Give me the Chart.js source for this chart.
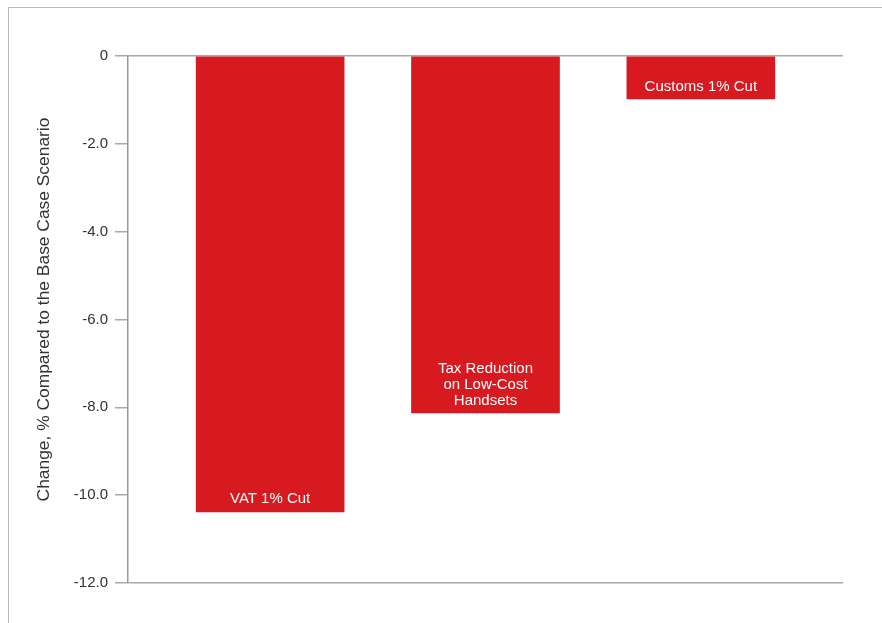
<!DOCTYPE html>
<html>
<head>
<meta charset="utf-8">
<script src="https://cdn.jsdelivr.net/npm/chart.js@4.4.1/dist/chart.umd.min.js"></script>
<style>
	body{margin:0;background:#fff;}
	#wrap{position:relative;width:882px;height:623px;}
	#frame{position:absolute;left:8px;top:7px;right:0;bottom:0;border-left:1.5px solid #b9b9b9;border-top:1.5px solid #b9b9b9;}
	canvas{position:absolute;left:0;top:0;}
</style>
</head>
<body>
<div id="wrap">
	<div id="frame"></div>
	<canvas id="taxChart" width="882" height="623"></canvas>
</div>
<script>
// Data
const categories = [["VAT 1% Cut"], ["Tax Reduction", "on Low-Cost", "Handsets"], ["Customs 1% Cut"]];
const changeValues = [-10.38, -8.13, -0.98];
const yTicks = [0, -2, -4, -6, -8, -10, -12];
const yTitle = "Change, % Compared to the Base Case Scenario";

const barRed = "#d71920";
const lineGray = "#a8a8a8";
const fontFamily = "'Liberation Sans', Arial, Helvetica, sans-serif";

// White labels written inside the end of each bar
const barLabels = {
	id: "barLabels",
	afterDatasetsDraw(chart){
		var ctx = chart.ctx;
		var meta = chart.getDatasetMeta(0);
		ctx.save();
		ctx.fillStyle = "#fff";
		ctx.font = "15px " + fontFamily;
		ctx.textAlign = "center";
		ctx.textBaseline = "middle";
		meta.data.forEach((bar, i) => {
			var lines = categories[i];
			var lh = 16;
			var y0 = bar.y - 12.5 - (lines.length - 1) * lh;
			lines.forEach((t, k) => ctx.fillText(t, bar.x, y0 + k * lh));
		});
		ctx.restore();
	}
};

// Rotated y axis title, a little above the middle of the axis as in the original
const axisTitle = {
	id: "axisTitle",
	afterDraw(chart){
		var ctx = chart.ctx;
		var area = chart.chartArea;
		ctx.save();
		ctx.translate(44, (area.top + area.bottom) / 2 - 10);
		ctx.rotate(-Math.PI / 2);
		ctx.fillStyle = "#333";
		ctx.font = "17.4px " + fontFamily;
		ctx.textAlign = "center";
		ctx.textBaseline = "middle";
		ctx.fillText(yTitle, 0, 0);
		ctx.restore();
	}
};

var points = changeValues.map((v, i) => ({x: i, y: v}));

new Chart(document.getElementById("taxChart"), {
	type: "bar",
	data: {
		datasets: [{
			data: points,
			backgroundColor: barRed,
			borderWidth: 0,
			barThickness: 148
		}]
	},
	options: {
		responsive: false,
		animation: false,
		layout: {padding: {top: 56, right: 39, bottom: 40, left: 0}},
		plugins: {legend: {display: false}, tooltip: {enabled: false}},
		scales: {
			x: {type: "linear", min: -0.66, max: 2.66, offset: false, display: false},
			y: {
				min: -12, max: 0,
				afterBuildTicks: axis => { axis.ticks = yTicks.map(v => ({value: v})); },
				afterFit: axis => { axis.width = 128; },
				border: {color: "#9a9a9a", width: 1.5},
				grid: {
					color: c => (c.tick && (c.tick.value === 0 || c.tick.value === -12)) ? lineGray : "rgba(0,0,0,0)",
					tickColor: lineGray,
					tickLength: 13,
					lineWidth: 1.5
				},
				ticks: {
					color: "#333",
					padding: 7,
					font: {family: fontFamily, size: 15},
					callback: v => v === 0 ? "0" : v.toFixed(1)
				}
			}
		}
	},
	plugins: [barLabels, axisTitle]
});
</script>
</body>
</html>
